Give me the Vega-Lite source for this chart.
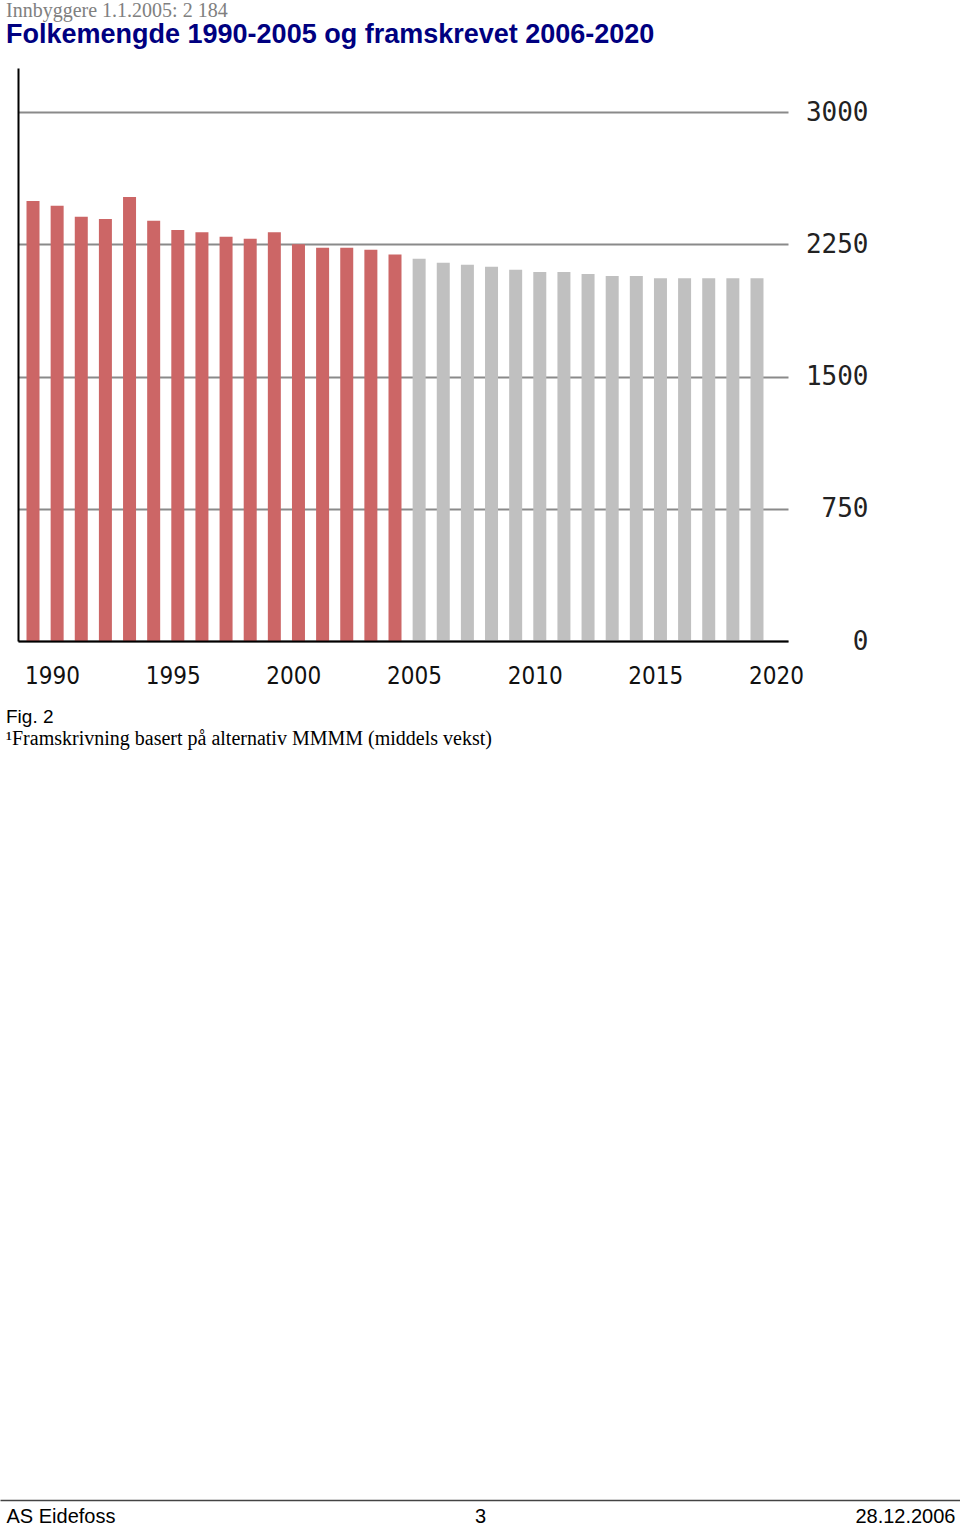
{
  "$schema": "https://vega.github.io/schema/vega-lite/v6.json",
  "background": "white",
  "padding": {"left": -3, "top": 1, "right": 0, "bottom": 0},
  "columns": 1,
  "align": "none",
  "spacing": 20,
  "config": {"view": {"stroke": null}},
  "concat": [
    {
      "width": 770,
      "height": 573,
      "title": {
        "text": "Innbyggere 1.1.2005: 2 184",
        "subtitle": "Folkemengde 1990-2005 og framskrevet 2006-2020",
        "anchor": "start",
        "frame": "group",
        "dx": -12,
        "font": "Liberation Serif",
        "fontSize": 20,
        "fontWeight": "normal",
        "color": "#808080",
        "subtitleFont": "Liberation Sans",
        "subtitleFontSize": 27,
        "subtitleFontWeight": "bold",
        "subtitleColor": "#000080",
        "subtitlePadding": 1,
        "offset": 20
      },
      "data": {
        "values": [
          {"year": 1990, "pop": 2495, "type": "Registrert"},
          {"year": 1991, "pop": 2469, "type": "Registrert"},
          {"year": 1992, "pop": 2406, "type": "Registrert"},
          {"year": 1993, "pop": 2393, "type": "Registrert"},
          {"year": 1994, "pop": 2518, "type": "Registrert"},
          {"year": 1995, "pop": 2384, "type": "Registrert"},
          {"year": 1996, "pop": 2331, "type": "Registrert"},
          {"year": 1997, "pop": 2318, "type": "Registrert"},
          {"year": 1998, "pop": 2293, "type": "Registrert"},
          {"year": 1999, "pop": 2282, "type": "Registrert"},
          {"year": 2000, "pop": 2318, "type": "Registrert"},
          {"year": 2001, "pop": 2250, "type": "Registrert"},
          {"year": 2002, "pop": 2231, "type": "Registrert"},
          {"year": 2003, "pop": 2231, "type": "Registrert"},
          {"year": 2004, "pop": 2219, "type": "Registrert"},
          {"year": 2005, "pop": 2192, "type": "Registrert"},
          {"year": 2006, "pop": 2168, "type": "Framskrevet"},
          {"year": 2007, "pop": 2145, "type": "Framskrevet"},
          {"year": 2008, "pop": 2134, "type": "Framskrevet"},
          {"year": 2009, "pop": 2123, "type": "Framskrevet"},
          {"year": 2010, "pop": 2106, "type": "Framskrevet"},
          {"year": 2011, "pop": 2093, "type": "Framskrevet"},
          {"year": 2012, "pop": 2093, "type": "Framskrevet"},
          {"year": 2013, "pop": 2081, "type": "Framskrevet"},
          {"year": 2014, "pop": 2070, "type": "Framskrevet"},
          {"year": 2015, "pop": 2070, "type": "Framskrevet"},
          {"year": 2016, "pop": 2057, "type": "Framskrevet"},
          {"year": 2017, "pop": 2057, "type": "Framskrevet"},
          {"year": 2018, "pop": 2057, "type": "Framskrevet"},
          {"year": 2019, "pop": 2057, "type": "Framskrevet"},
          {"year": 2020, "pop": 2057, "type": "Framskrevet"}
        ]
      },
      "encoding": {
        "x": {
          "field": "year",
          "type": "quantitative",
          "scale": {"domain": [1989.378, 2021.285], "nice": false, "zero": false, "padding": 0},
          "axis": {
            "values": [1990, 1995, 2000, 2005, 2010, 2015, 2020],
            "format": "d",
            "title": null,
            "grid": false,
            "ticks": false,
            "labelOffset": 19,
            "labelPadding": 23,
            "labelFont": "Liberation Sans Narrow, DejaVu Sans Condensed, sans-serif",
            "labelFontSize": 24,
            "labelColor": "#111111",
            "labelFlush": false,
            "labelOverlap": false,
            "domainColor": "#000000",
            "domainWidth": 2,
            "zindex": 2
          }
        },
        "y": {
          "field": "pop",
          "type": "quantitative",
          "scale": {"domain": [0, 3250], "nice": false, "zero": true}
        }
      },
      "layer": [
        {
          "mark": {"type": "bar", "width": 13, "opacity": 0},
          "encoding": {
            "y": {
              "field": "pop",
              "type": "quantitative",
              "axis": {
                "orient": "left",
                "values": [1500],
                "title": null,
                "labels": false,
                "grid": false,
                "ticks": false,
                "domain": true,
                "domainColor": "#000000",
                "domainWidth": 2,
                "zindex": 2
              }
            }
          }
        },
        {
          "mark": {"type": "bar", "width": 13},
          "encoding": {
            "y": {
              "field": "pop",
              "type": "quantitative",
              "axis": {
                "orient": "right",
                "values": [0, 750, 1500, 2250, 3000],
                "format": "d",
                "title": null,
                "grid": true,
                "gridColor": "#8a8a8a",
                "gridWidth": 2,
                "gridOpacity": 1,
                "domain": false,
                "ticks": false,
                "labelFont": "DejaVu Sans Mono",
                "labelFontSize": 26,
                "labelColor": "#222222",
                "labelAlign": "right",
                "labelBaseline": "middle",
                "labelPadding": 80,
                "labelFlush": false,
                "labelOverlap": false
              }
            },
            "color": {
              "field": "type",
              "type": "nominal",
              "scale": {"domain": ["Registrert", "Framskrevet"], "range": ["#cc6666", "#c0c0c0"]},
              "legend": null
            }
          }
        }
      ]
    },
    {
      "width": 924,
      "height": 0,
      "title": {
        "text": "Fig. 2",
        "subtitle": "¹Framskrivning basert på alternativ MMMM (middels vekst)",
        "anchor": "start",
        "frame": "group",
        "dx": -12,
        "font": "Liberation Sans",
        "fontSize": 19,
        "fontWeight": "normal",
        "color": "#000000",
        "subtitleFont": "Liberation Serif",
        "subtitleFontSize": 20,
        "subtitleColor": "#000000",
        "subtitlePadding": 2,
        "offset": 731
      },
      "data": {"values": [{"v": 0}]},
      "mark": {"type": "point", "opacity": 0},
      "encoding": {
        "x": {
          "field": "v",
          "type": "quantitative",
          "scale": {"domain": [0, 960], "range": [-18, 942], "nice": false, "zero": false},
          "axis": {
            "orient": "bottom",
            "values": [6, 480, 955],
            "labelExpr": "datum.value < 100 ? 'AS Eidefoss' : (datum.value < 600 ? '3' : '28.12.2006')",
            "labelAlign": {"condition": [{"test": "datum.value < 100", "value": "left"}, {"test": "datum.value > 600", "value": "right"}], "value": "center"},
            "title": null,
            "grid": false,
            "ticks": false,
            "domain": true,
            "domainColor": "#444444",
            "domainWidth": 1.5,
            "labelFont": "Liberation Sans",
            "labelFontSize": 20,
            "labelColor": "#000000",
            "labelPadding": 6,
            "labelFlush": false,
            "labelOverlap": false,
            "labelBound": false
          }
        }
      }
    }
  ]
}
